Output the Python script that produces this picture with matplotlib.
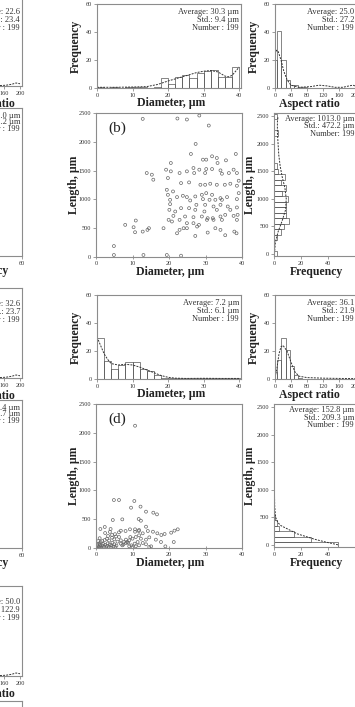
import matplotlib
matplotlib.use('Agg')
import matplotlib.pyplot as plt

W, H = 355, 707
plt.rcParams['font.family'] = ['Liberation Serif', 'DejaVu Serif']
fig = plt.figure(figsize=(W / 100, H / 100), dpi=100)

FRAME = '#8c8c8c'
BAR_EDGE = '#555555'
TXT = '#333333'

# ---------------- data ----------------
# panel (b) diameter histogram (2 um bins, 0-40)
diam_b_edges = [0, 2, 4, 6, 8, 10, 12, 14, 16, 18, 20, 22, 24, 26, 28, 30, 32, 34, 36, 38]
diam_b_counts = [1, 0, 1, 0, 1, 1, 1, 0, 1, 7, 3, 8, 9, 7, 11, 12, 13, 8, 8, 15]
diam_b_curve_x = [0, 5, 10, 14, 17, 20, 22, 24, 26, 28, 30, 32, 34, 35, 36, 37, 38, 39, 40]
diam_b_curve_y = [0.5, 0.5, 0.7, 1, 2.5, 5, 6.5, 8, 9.5, 11, 12, 12.5, 11.5, 10, 8.5, 8, 9, 12, 15]

# panel (b) aspect ratio histogram (bins centred on multiples of ~10.5)
ar_b_edges = [-5, 5.5, 16, 26.5, 37, 47.5, 58, 68.5]
ar_b_counts = [20, 41, 20, 6, 2, 2, 1, 1]
ar_b_curve_x = [0, 4, 8, 15, 22, 30, 40, 60, 90, 110, 130, 150, 170, 185, 195, 200]
ar_b_curve_y = [24, 27, 26, 20, 12, 6, 2, 0.5, 1, 2, 1.5, 0.5, 0.5, 1.5, 2, 1.5]

# panel (b) length histogram (100 um bins centred on multiples of 100)
len_b_edges = [-50, 250, 350, 450, 550, 650, 750, 850, 950, 1050, 1150, 1250,
               1350, 1450, 1550, 2150, 2450]
len_b_counts = [2, 2, 5, 7, 11, 9, 8.5, 8.5, 10, 6, 8.5, 5, 8, 3, 2, 3, 2]
len_b_curve_L = [0, 200, 400, 600, 800, 1000, 1200, 1400, 1600, 1800, 2000, 2200, 2400, 2500]
len_b_curve_f = [0.3, 1, 3, 6, 8.5, 9, 8, 6, 4.5, 3.5, 3, 2.5, 2.5, 3]

# panel (b) scatter: diameter (um) vs length (um)
sc_b_d = [12.8, 22.3, 24.9, 28.3, 30.9, 27.3, 26.0, 31.8, 29.3, 30.2, 33.1, 35.6, 38.3, 33.3,
          20.5, 19.2, 20.5, 26.7, 28.3, 30.2, 31.8, 34.1, 37.7, 38.6, 13.9, 15.3, 15.7, 19.7,
          22.9, 24.9, 26.9, 29.9, 34.5, 36.4, 39.1, 23.3, 25.5, 28.6, 29.9, 31.3, 33.1, 35.3,
          36.8, 38.6, 19.4, 21.1, 22.2, 23.8, 24.9, 27.2, 29.0, 30.2, 31.8, 34.1, 35.9, 39.1,
          19.7, 20.3, 25.8, 29.3, 31.1, 32.7, 34.5, 38.6, 20.3, 23.3, 25.5, 27.5, 29.9, 32.2,
          34.1, 36.1, 38.6, 20.1, 21.7, 27.2, 29.7, 33.1, 36.8, 21.2, 24.4, 26.7, 29.0, 30.6,
          32.0, 34.1, 35.4, 37.7, 38.8, 19.9, 20.8, 22.9, 24.9, 26.7, 28.2, 30.4, 32.2, 34.5,
          38.6, 24.0, 27.7, 32.7, 34.1, 37.9, 22.9, 24.9, 22.2, 27.2, 30.6, 35.4, 38.5, 18.5,
          14.5, 14.1, 12.8, 10.9, 10.3, 10.7, 8.0, 13.0, 19.4, 23.3, 4.9, 4.9]
sc_b_L = [2398, 2404, 2387, 2456, 2282, 1963, 1789, 1748, 1690, 1690, 1719, 1678, 1789, 1632,
          1632, 1516, 1487, 1545, 1516, 1527, 1527, 1504, 1516, 1458, 1458, 1429, 1342, 1371,
          1458, 1487, 1458, 1458, 1446, 1458, 1324, 1283, 1295, 1254, 1254, 1272, 1254, 1254,
          1272, 1237, 1167, 1138, 1040, 1063, 1040, 1051, 1080, 1109, 1080, 1022, 1040, 1109,
          1080, 993, 981, 1005, 993, 993, 993, 1005, 918, 848, 848, 906, 906, 877,
          906, 877, 860, 819, 790, 819, 790, 819, 819, 714, 703, 691, 703, 674,
          674, 703, 732, 714, 732, 645, 616, 645, 587, 587, 558, 645, 645, 645,
          645, 500, 529, 500, 471, 441, 471, 500, 412, 366, 424, 378, 412, 500,
          500, 471, 441, 633, 517, 430, 558, 35, 35, 23, 190, 35]

# panel (d) diameter histogram
diam_d_edges = [0, 2, 4, 6, 8, 10, 12, 14, 16, 18, 20, 28, 30, 38]
diam_d_counts = [29, 13, 7, 10, 12, 12, 7, 6, 3, 1, 0.5, 0.5, 0.5, 0.5]
diam_d_curve_x = [0, 1, 2, 3, 4, 6, 8, 10, 12, 14, 16, 18, 20, 22, 25, 30, 35, 40]
diam_d_curve_y = [30, 24, 18, 14, 11, 10, 10.5, 10, 8.5, 6.5, 4.5, 2.5, 1.2, 0.6, 0.4, 0.5, 0.4, 0.4]

# panel (d) aspect ratio histogram
ar_d_edges = [-5, 5.5, 16, 26.5, 37, 47.5, 58]
ar_d_counts = [5, 13.5, 29.5, 21, 9, 3, 1]
ar_d_curve_x = [0, 5, 10, 15, 20, 25, 30, 35, 40, 50, 60, 80, 120, 160, 200]
ar_d_curve_y = [1, 8, 18, 23, 24, 22, 20, 16, 12, 5, 2, 1, 0.6, 0.4, 0.3]

# panel (d) length histogram
len_d_edges = [-50, 50, 150, 250, 350, 450]
len_d_counts = [47, 27, 15, 4, 2, 1]
len_d_curve_L = [0, 50, 100, 200, 300, 350, 400, 450, 500, 700, 1000, 1500, 2000, 2500]
len_d_curve_f = [47, 38, 30, 17, 9, 5, 3, 2, 1.2, 0.5, 0.3, 0.2, 0.1, 0.1]

# panel (d) scatter
sc_d_d = [10.7, 10.5, 9.6, 12.2, 13.7, 15.7, 16.7, 11.7, 12.3, 7.2, 13.7, 6.8, 6.3, 8.1, 9.3,
          10.7, 11.7, 12.8, 14.2, 15.6, 16.8, 17.9, 18.8, 20.6, 21.5, 22.4, 21.3, 19.0, 15.1,
          14.6, 17.8, 16.4, 14.6, 13.7, 12.3, 11.8, 10.9, 10.0, 9.1, 8.2, 7.7, 11.4, 12.8,
          13.7, 10.6, 9.7, 8.6, 6.8, 6.3, 10.7, 11.8, 6.8, 7.2, 8.2, 9.1, 10.0, 10.9, 11.8,
          6.3, 4.9, 4.6, 1.2, 2.4,
          0.2, 0.5, 0.8, 1.0, 1.2, 1.5, 1.8, 2.0, 2.2, 2.5, 2.8, 3.0, 3.2, 3.5, 3.8, 4.0,
          4.2, 4.5, 4.8, 5.0, 5.3, 5.6, 5.9, 0.4, 0.9, 1.3, 1.7, 2.4, 3.0, 3.6, 4.4, 5.0,
          5.5, 4.0, 4.4, 3.3, 2.5, 1.0, 3.8, 5.2, 0.6, 7.5, 8.8, 9.4]
sc_d_L = [2123, 816, 700, 718, 631, 613, 584, 503, 474, 497, 370, 300, 272, 295, 324,
          283, 295, 255, 295, 283, 255, 226, 243, 266, 301, 324, 104, 29, 29,
          17, 104, 145, 185, 145, 162, 220, 191, 162, 133, 145, 104, 104, 87,
          64, 75, 46, 104, 133, 191, 324, 312, 75, 46, 87, 29, 17, 29, 46,
          833, 833, 486, 330, 365,
          10, 30, 15, 50, 25, 5, 40, 70, 20, 55, 10, 35, 80, 20, 60, 5,
          45, 90, 25, 65, 15, 40, 110, 60, 80, 100, 120, 140, 160, 130, 180, 150,
          200, 330, 226, 208, 260, 170, 280, 240, 120, 60, 90, 190]

# ---------------- helpers ----------------
def add_ax(x0, y0, x1, y1):
    ax = fig.add_axes([x0 / W, 1 - y1 / H, (x1 - x0) / W, (y1 - y0) / H])
    ax._px = (x0, y0, x1, y1)
    for s in ax.spines.values():
        s.set_color(FRAME)
        s.set_linewidth(0.8)
    ax.tick_params(colors=FRAME, labelcolor=TXT, labelsize=4.5, length=2,
                   width=0.6, pad=1.5)
    ax.set_facecolor('none')
    return ax


def pa(ax, x, y):
    x0, y0, x1, y1 = ax._px
    return (x - x0) / (x1 - x0), (y1 - y) / (y1 - y0)


def stats(ax, xr, y0, lines, dy=8.2, fs=6):
    for i, s in enumerate(lines):
        ax.text(*pa(ax, xr, y0 + i * dy), s, transform=ax.transAxes, ha='right',
                va='center', fontsize=fs, color=TXT, clip_on=False)


def xlab(ax, s, x, y):
    ax.set_xlabel(s, fontsize=8.5, fontweight='bold', color='#222222')
    ax.xaxis.set_label_coords(*pa(ax, x, y))
    ax.xaxis.label.set_va('center')


def ylab(ax, s, x, y):
    ax.set_ylabel(s, fontsize=8.5, fontweight='bold', color='#222222')
    ax.yaxis.set_label_coords(*pa(ax, x, y))
    ax.yaxis.label.set_va('center')


def vhist(ax, edges, counts, cx, cy):
    widths = [b - a for a, b in zip(edges, edges[1:] + [edges[-1] + (edges[-1] - edges[-2])])]
    ax.bar(edges, counts, width=widths, align='edge', fill=False,
           edgecolor=BAR_EDGE, linewidth=0.5)
    ax.plot(cx, cy, ls=(0, (2, 1.2)), color='#333333', lw=0.7)


def hhist(ax, edges, counts, height, cL, cf):
    ax.barh(edges, counts, height=height, align='edge', fill=False,
            edgecolor=BAR_EDGE, linewidth=0.5)
    ax.plot(cf, cL, ls=(0, (2, 1.2)), color='#333333', lw=0.7)


# ---------------- panels ----------------
for off, (dd_e, dd_c, dcx, dcy, ar_e, ar_c, acx, acy, le, lc, lcl, lcf,
          sd, sL, lab, dstat, astat, lstat) in zip(
        [0, 291],
        [(diam_b_edges, diam_b_counts, diam_b_curve_x, diam_b_curve_y,
          ar_b_edges, ar_b_counts, ar_b_curve_x, ar_b_curve_y,
          len_b_edges, len_b_counts, len_b_curve_L, len_b_curve_f,
          sc_b_d, sc_b_L, '(b)',
          ['Average: 30.3 µm', 'Std.: 9.4 µm', 'Number : 199'],
          ['Average: 25.0', 'Std.: 27.2', 'Number : 199'],
          ['Average: 1013.0 µm', 'Std.: 472.2 µm', 'Number: 199']),
         (diam_d_edges, diam_d_counts, diam_d_curve_x, diam_d_curve_y,
          ar_d_edges, ar_d_counts, ar_d_curve_x, ar_d_curve_y,
          len_d_edges, len_d_counts, len_d_curve_L, len_d_curve_f,
          sc_d_d, sc_d_L, '(d)',
          ['Average: 7.2 µm', 'Std.: 6.1 µm', 'Number : 199'],
          ['Average: 36.1', 'Std.: 21.9', 'Number : 199'],
          ['Average: 152.8 µm', 'Std.: 209.3 µm', 'Number : 199'])]):
    # diameter histogram
    ax = add_ax(97, 4 + off, 241, 88 + off)
    ax.set_xlim(0, 40.5)
    ax.set_ylim(0, 60)
    ax.set_xticks([0, 10, 20, 30, 40])
    ax.set_yticks([0, 20, 40, 60])
    vhist(ax, dd_e, dd_c, dcx, dcy)
    stats(ax, 239, 12 + off, dstat)
    xlab(ax, 'Diameter, µm', 171, 103 + off)
    ylab(ax, 'Frequency', 76, 46 + off)

    # aspect ratio histogram (right)
    ax = add_ax(275, 4 + off, 357, 88 + off)
    ax.set_xlim(0, 205)
    ax.set_ylim(0, 60)
    ax.set_xticks([0, 40, 80, 120, 160, 200])
    ax.set_yticks([0, 20, 40, 60])
    vhist(ax, ar_e, ar_c, acx, acy)
    stats(ax, 354, 12 + off, astat)
    xlab(ax, 'Aspect ratio', 309, 104 + off)
    ylab(ax, 'Frequency', 254, 46 + off)

    # scatter
    ax = add_ax(96, 113 + off, 242, 257 + off)
    ax.set_xlim(0, 40)
    ax.set_ylim(0, 2500)
    ax.set_xticks([0, 10, 20, 30, 40])
    ax.set_yticks([0, 500, 1000, 1500, 2000, 2500])
    ax.tick_params(axis='x', direction='inout', length=3)
    ax.scatter(sd, sL, s=4.5, facecolors='none', edgecolors='#666666', linewidths=0.5)
    ax.text(*pa(ax, 117, 128 + off), lab, transform=ax.transAxes, fontsize=11,
            ha='center', va='center', color='#222222')
    xlab(ax, 'Diameter, µm', 170, 272 + off)
    ylab(ax, 'Length, µm', 74, 185 + off)

    # length histogram (right, horizontal)
    ax = add_ax(274, 113 + off, 357, 256 + off)
    ax.set_xlim(0, 61)
    ax.set_ylim(-40, 2560)
    ax.set_xticks([0, 20, 40])
    ax.set_yticks([0, 500, 1000, 1500, 2000, 2500])
    hhist(ax, le, lc, 100, lcl, lcf)
    stats(ax, 354, 119 + off, lstat, dy=7.5)
    xlab(ax, 'Frequency', 316, 272 + off)
    ylab(ax, 'Length, µm', 250, 185 + off)

# ---------------- clipped left column ----------------
left_ar = [(0, ['Average: 22.6', 'Std.: 23.4', 'Number : 199']),
           (292, ['Average: 32.6', 'Std.: 23.7', 'Number : 199']),
           (590, ['Average: 50.0', 'Std.: 122.9', 'Number : 199'])]
left_ar_tail_x = [150, 165, 180, 190, 200]
left_ar_tail_y = [0.3, 0.5, 1.2, 2.0, 1.5]
for off, lines in left_ar:
    ax = add_ax(-60, 0 + off - 4, 22, 86 + off)
    ax.set_xlim(0, 205)
    ax.set_ylim(0, 60)
    ax.set_xticks([0, 40, 80, 120, 160, 200])
    ax.set_yticks([0, 20, 40, 60])
    ax.plot(left_ar_tail_x, left_ar_tail_y, ls=(0, (2, 1.2)), color='#333333', lw=0.7)
    stats(ax, 20, 12 + off, lines)
    xlab(ax, 'Aspect ratio', -16, 104 + off)

left_len = [(0, ['Average: 1030.0 µm', 'Std.: 441.2 µm', 'Number : 199']),
            (292, ['Average: 121.4 µm', 'Std.: 96.7 µm', 'Number : 199'])]
for off, lines in left_len:
    ax = add_ax(-61, 108 + off, 22, 256 + off)
    ax.set_xlim(0, 60)
    ax.set_ylim(-40, 2560)
    ax.set_xticks([0, 20, 40, 60])
    ax.set_yticks([0, 500, 1000, 1500, 2000, 2500])
    stats(ax, 20, 116 + off, lines, dy=6.5)
    xlab(ax, 'Frequency', -18, 271 + off)

ax = add_ax(-61, 701, 22, 800)
ax.set_xticks([])
ax.set_yticks([])

fig.savefig('out.png', dpi=100)
